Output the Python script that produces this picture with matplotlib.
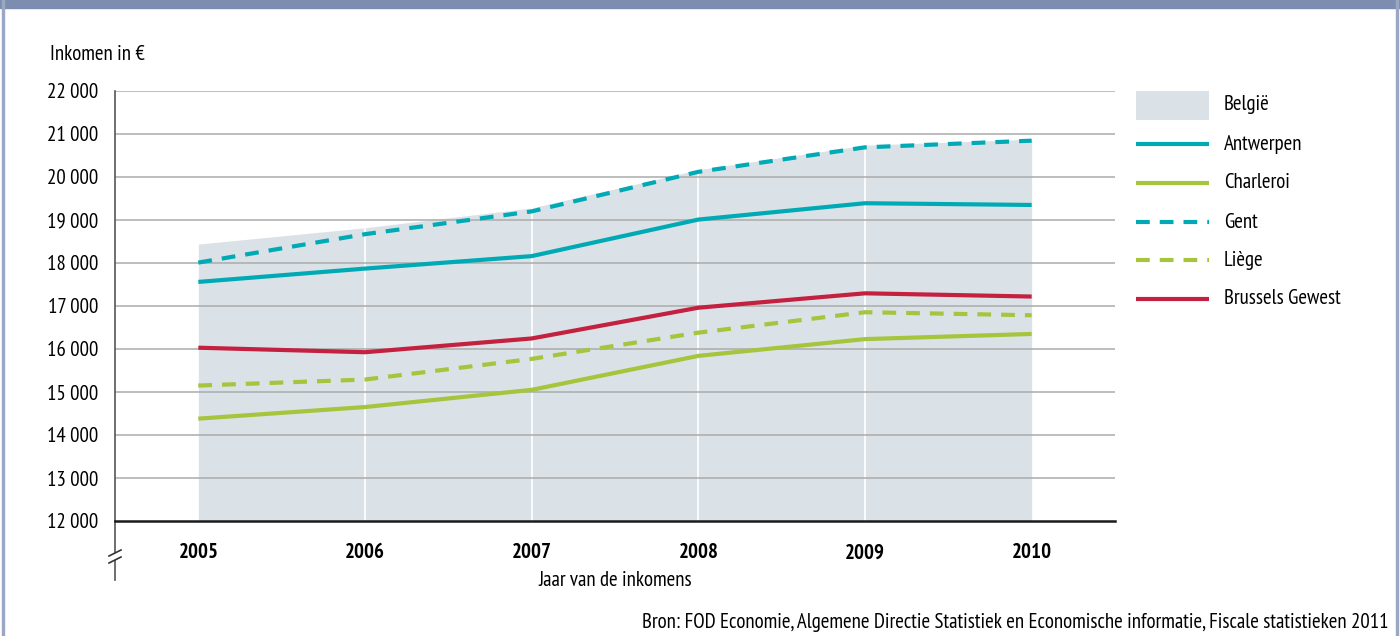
import numpy as np
import matplotlib
matplotlib.use("Agg")
import matplotlib.pyplot as plt
from matplotlib.patches import Rectangle

plt.rcParams['font.family'] = ['PT Sans Narrow', 'DejaVu Sans']

# ---------- data ----------
years = [2005, 2006, 2007, 2008, 2009, 2010]
belgie = [18440, 18820, 19280, 20170, 20740, 20880]
antwerpen = [17560, 17870, 18160, 19010, 19390, 19350]
charleroi = [14380, 14650, 15050, 15840, 16230, 16350]
gent = [18010, 18670, 19200, 20120, 20690, 20845]
liege = [15150, 15290, 15770, 16380, 16855, 16785]
brussel = [16030, 15925, 16245, 16960, 17295, 17220]
yticks = list(range(12000, 22001, 1000))
ytick_labels = [f"{v // 1000} 000" for v in yticks]

TEAL = "#00aab4"
GREEN = "#a6c43c"
RED = "#c4203f"
FILL = "#dae2e8"
GRID = "#ababab"
FRAME = "#7d8db0"
DASH = (0, (3.3, 2.4))

fig = plt.figure(figsize=(14, 6.36), dpi=100)

# frame: top banner and side borders
fig.patches.append(Rectangle((0, 1 - 8 / 636), 1, 8 / 636, transform=fig.transFigure,
                             color=FRAME, zorder=0))
fig.patches.append(Rectangle((2 / 1400, 0), 2 / 1400, 1, transform=fig.transFigure,
                             color="#9aa8c6", zorder=0))
fig.patches.append(Rectangle((1396 / 1400, 0), 2 / 1400, 1, transform=fig.transFigure,
                             color="#9aa8c6", zorder=0))

ax = fig.add_axes([115 / 1400, 1 - 521 / 636, 1000 / 1400, 430 / 636])
ax.set_xlim(2004.5, 2010.5)
ax.set_ylim(12000, 22000)

ax.fill_between(years, 12000, belgie, color=FILL, lw=0, zorder=1)
for yr in years[1:-1]:
    ax.vlines(yr, 12000, np.interp(yr, years, belgie), color="white", lw=1.2, zorder=1.5)
for v in yticks[1:]:
    ax.axhline(v, color=GRID, lw=1.1, zorder=2)

ax.plot(years, antwerpen, color=TEAL, lw=3, zorder=3, solid_capstyle="butt")
ax.plot(years, charleroi, color=GREEN, lw=3, zorder=3, solid_capstyle="butt")
ax.plot(years, gent, color=TEAL, lw=3, ls=DASH, zorder=3)
ax.plot(years, liege, color=GREEN, lw=3, ls=DASH, zorder=3)
ax.plot(years, brussel, color=RED, lw=3, zorder=3, solid_capstyle="butt")

for s in ["top", "right"]:
    ax.spines[s].set_visible(False)
ax.spines["bottom"].set_color("#1a1a1a")
ax.spines["bottom"].set_linewidth(1.8)
ax.spines["left"].set_color("#555555")
ax.spines["left"].set_linewidth(1.2)
ax.spines["left"].set_bounds(12000, 22000)

ax.set_yticks(yticks, ytick_labels, fontsize=15)
ax.set_xticks(years, [str(y) for y in years], fontsize=15, fontweight="bold")
ax.tick_params(axis="y", length=0, pad=12)
ax.tick_params(axis="x", length=0, pad=16)

# broken axis below 12 000
ax.plot([0, 0], [0, -59 / 430], transform=ax.transAxes, color="#555555", lw=1.2,
        clip_on=False)
ax.plot([-2 / 1000, 2 / 1000], [-35 / 430, -35 / 430], transform=ax.transAxes,
        color="white", lw=5, clip_on=False, zorder=4)
for dy in (-32, -39):
    ax.plot([-6 / 1000, 6 / 1000], [(dy - 3) / 430, (dy + 3) / 430],
            transform=ax.transAxes, color="#333333", lw=1.2, clip_on=False, zorder=5)

fig.text(50 / 1400, 1 - 55 / 636, "Inkomen in €", fontsize=15, va="center", ha="left")
fig.text(615 / 1400, 1 - 581 / 636, "Jaar van de inkomens", fontsize=15,
         va="center", ha="center")
fig.text(1388 / 1400, 1 - 623 / 636,
         "Bron: FOD Economie, Algemene Directie Statistiek en Economische informatie, "
         "Fiscale statistieken 2011", fontsize=15, va="center", ha="right")

# legend drawn in its own axes (pixel coordinates)
lg = fig.add_axes([0, 0, 1, 1], facecolor="none")
lg.set_xlim(0, 1400)
lg.set_ylim(636, 0)
lg.axis("off")
labels = ["België", "Antwerpen", "Charleroi", "Gent", "Liège", "Brussels Gewest"]
styles = [None, (TEAL, "-"), (GREEN, "-"), (TEAL, DASH), (GREEN, DASH), (RED, "-")]
row_y = [105, 144, 183, 222, 260, 299]
for lab, st, yy in zip(labels, styles, row_y):
    if st is None:
        lg.add_patch(Rectangle((1136, yy - 14.5), 73, 29, color=FILL, lw=0))
    else:
        lg.plot([1136, 1209], [yy, yy], color=st[0], ls=st[1], lw=3,
                solid_capstyle="butt")
    lg.text(1224, yy, lab, fontsize=15, va="center", ha="left")

fig.savefig("out.png", dpi=100)
